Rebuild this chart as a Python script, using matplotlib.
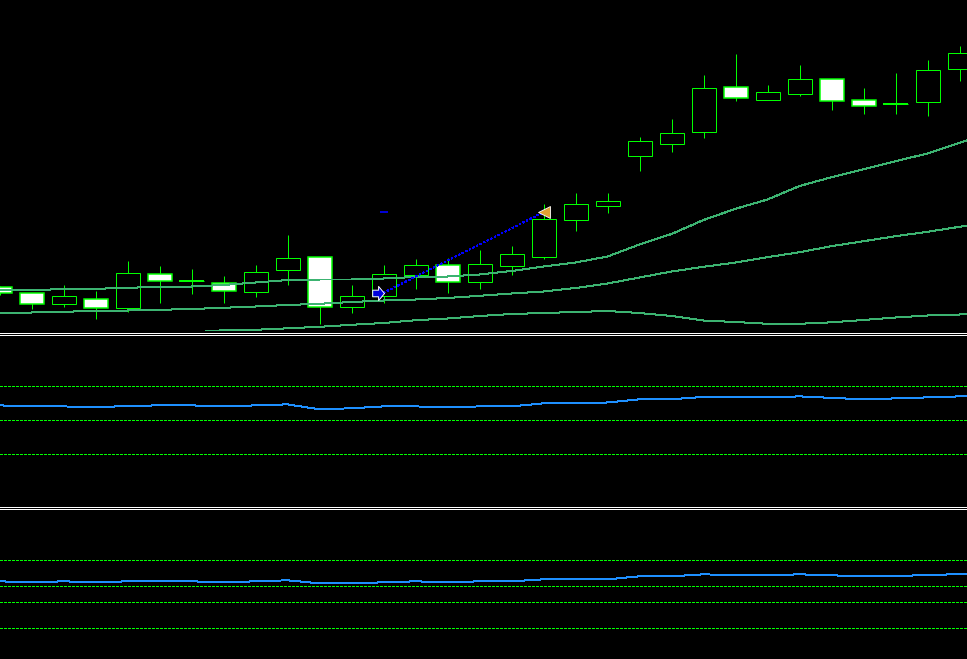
import numpy as np
import matplotlib
matplotlib.use('Agg')
import matplotlib.pyplot as plt
from matplotlib.path import Path
from matplotlib.lines import Line2D

# candles (price units, arbitrary scale)
opens = [113, 107, 96, 101, 92, 126, 119, 117, 108, 130, 143, 93, 104, 125, 135, 118,
         134, 143, 180, 194, 244, 256, 268, 313, 300, 306, 321, 300, 296, 298, 331]
highs = [114, 107, 115, 109, 139, 134, 131, 124, 135, 165, 143, 115, 135, 141, 142, 150,
         154, 196, 207, 207, 263, 281, 325, 346, 315, 335, 321, 312, 327, 340, 354]
lows = [105, 91, 93, 81, 88, 97, 106, 97, 103, 115, 76, 87, 97, 111, 107, 111,
        125, 141, 169, 187, 229, 248, 262, 299, 300, 304, 290, 286, 286, 284, 319]
closes = [107, 96, 104, 92, 127, 119, 119, 109, 128, 142, 93, 104, 126, 135, 118, 136,
          146, 181, 196, 199, 259, 267, 312, 302, 308, 321, 299, 294, 296, 330, 347]

# moving averages (one extra bar past the right edge)
ma_fast = [109, 109.3, 110.5, 110.7, 111.7, 112.7, 113, 114.5, 117, 119.5, 120, 120, 121, 122.5,
           123, 125, 128.5, 133, 137, 143, 155, 165.5, 179.5, 190.7, 200, 213.5, 222.3, 230.3,
           238.3, 246, 256.7, 267.4]
ma_mid = [86.5, 87, 87.7, 88.7, 89, 89.7, 90.5, 91.7, 93, 94.5, 95.7, 97.5, 99, 100, 101.5,
          103.7, 106, 108, 111.5, 116, 122, 128, 132.7, 137, 142.3, 147.3, 153.3, 158.3, 163.3,
          167.7, 172.7, 177.5]
ma_slow = [np.nan, np.nan, np.nan, np.nan, 62, 64.5, 67, 69.3, 69.7, 71.2, 72.7, 74.7, 76.5,
           79.3, 81, 83.5, 85.5, 86.5, 87.5, 88.5, 86.5, 83.5, 79, 77.5, 75.7, 75.7, 77.2, 79.5,
           82, 84, 85, 86.2]

# sub-window indicators
rsi = [58.8, 58.2, 58.2, 57.6, 58.5, 58.8, 58.8, 58.2, 58.8, 59.4, 56.5, 57.1, 58.2, 58.2, 57.6,
       58.2, 58.2, 60.0, 60.0, 60.5, 62.4, 62.4, 63.8, 63.5, 63.5, 64.1, 63.2, 62.4, 62.9, 63.5,
       64.1, 64.4]
rsi_levels = [70, 50, 30]
osc = [6.5, 6.0, 6.5, 6.0, 6.5, 6.5, 6.5, 6.0, 6.5, 7.0, 5.5, 5.5, 6.0, 6.5, 6.0, 6.5, 6.5,
       7.5, 7.5, 7.5, 9.0, 9.0, 10.0, 9.5, 9.5, 10.0, 9.5, 9.0, 9.0, 9.75, 10.0, 10.0]
osc_levels = [17, 4, -4, -17]

# trend line object (bar index, price)
trend_x = [12, 17]
trend_y = [106.7, 187.3]
level_mark = 187.7

W, H = 967, 659
fig = plt.figure(figsize=(W / 100, H / 100), dpi=100, facecolor='black')

def panel(top, bottom):
    ax = fig.add_axes([0, 1 - bottom / H, 1, (bottom - top) / H])
    ax.set_facecolor('black')
    for s in ax.spines.values():
        s.set_visible(False)
    ax.set_xticks([])
    ax.set_yticks([])
    # 32 px per bar, bar centres on pixel centres
    ax.set_xlim(0.5 / 32, 967.5 / 32)
    return ax

ax1 = panel(0, 331)
ax2 = panel(335, 506)
ax3 = panel(509, 659)

lime = '#00FF00'
px = 0.72  # one pixel in points

# --- main window ---
n = len(opens)
idx = np.arange(n)
o = np.array(opens, float)
c = np.array(closes, float)
ax1.vlines(idx, lows, highs, color=lime, lw=px, snap=True, zorder=2)
bear = c < o
body_lo = np.minimum(o, c)
body_h = np.abs(c - o)
ax1.bar(idx, body_h, bottom=body_lo, width=24 / 32,
        color=np.where(bear, 'white', 'black'), edgecolor=lime,
        linewidth=np.where(bear, 1.5 * px, px), snap=True, zorder=3)
doji = body_h == 0
ax1.hlines(o[doji], idx[doji] - 12.5 / 32, idx[doji] + 12.5 / 32, color=lime, lw=2 * px,
           snap=True, zorder=3)

ma_x = np.arange(len(ma_fast))
for ma in (ma_fast, ma_mid, ma_slow):
    ax1.plot(ma_x, ma, color='#3CB371', lw=px, antialiased=False, zorder=4)

ax1.plot(trend_x, trend_y, color='#0000FF', lw=px, dashes=(1.6, 2.2), antialiased=False, zorder=5)
ax1.plot(trend_x[0], level_mark, marker='_', color='#0000FF', ms=5.5, mew=1.2, zorder=5)

# MT4-style arrow objects
arrow = Path([(0, 0), (-0.5, 0.6), (-0.5, 0.28), (-1, 0.28), (-1, -0.28),
              (-0.5, -0.28), (-0.5, -0.6), (0, 0)])
ax1.plot(trend_x[0], trend_y[0], marker=arrow, ms=17, color='#0000E0',
         markeredgecolor='white', mew=0.7, zorder=6)
ax1.plot(trend_x[1], trend_y[1], marker='<', ms=8, color='#E0A030',
         markeredgecolor='white', mew=0.6, zorder=6)
# 1 price unit per pixel, integer prices on pixel centres
ax1.set_ylim(68.5, 399.5)

# --- first sub-window ---
for lv in rsi_levels:
    ax2.axhline(lv, color=lime, lw=px, dashes=(2.2, 1.6), antialiased=False)
ax2.plot(np.arange(len(rsi)), rsi, color='#1E90FF', lw=px, antialiased=False)
ax2.set_ylim(-0.4, 100.2)

# --- second sub-window ---
for lv in osc_levels:
    ax3.axhline(lv, color=lime, lw=px, dashes=(2.2, 1.6), antialiased=False)
ax3.plot(np.arange(len(osc)), osc, color='#1E90FF', lw=px, antialiased=False)
ax3.set_ylim(-32.35, 42.65)

# window separators
for yp in (332.5, 334.5, 506.5, 508.5):
    fig.add_artist(Line2D([0, 1], [1 - yp / H] * 2, transform=fig.transFigure,
                          color='white', lw=px, antialiased=False))

fig.savefig('out.png', dpi=100, facecolor='black')
